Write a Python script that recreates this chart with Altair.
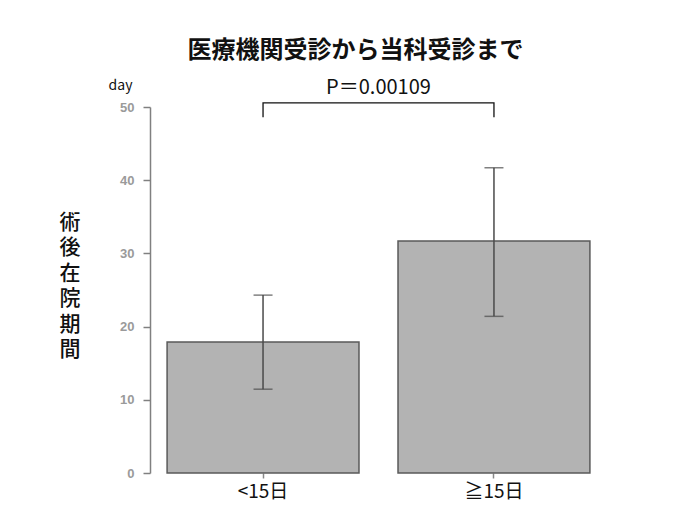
import altair as alt
import pandas as pd

# ---- data ----
categories = ["<15日", "≧15日"]
means = [17.9, 31.7]
lower = [11.45, 21.4]
upper = [24.3, 41.7]
y_ticks = [0, 10, 20, 30, 40, 50]

title_text = "医療機関受診から当科受診まで"
p_label = "P＝0.00109"
y_unit = "day"
y_title = "術後在院期間"

bracket_top = 50.55
bracket_bottom = 48.6
p_label_y = 52.6

FONT_JP = "Noto Sans CJK JP"
W, H = 457, 366

df = pd.DataFrame({"group": categories, "mean": means, "lo": lower, "hi": upper})
br = pd.DataFrame({
    "group": [categories[0], categories[0], categories[1], categories[1]],
    "y": [bracket_bottom, bracket_top, bracket_top, bracket_bottom],
    "o": [0, 1, 2, 3],
})

x_scale = alt.Scale(domain=categories, paddingInner=0.169, paddingOuter=0.074)
y_scale = alt.Scale(domain=[0, 50], nice=False, zero=True)

x_enc = alt.X(
    "group:N", sort=categories, scale=x_scale,
    axis=alt.Axis(title=None, domain=False, labelAngle=0, labelFont=FONT_JP,
                  labelFontSize=19, labelColor="#111", tickColor="#888",
                  tickSize=5, tickWidth=1.5, labelPadding=4),
)
y_enc = alt.Y(
    "mean:Q", scale=y_scale,
    axis=alt.Axis(values=y_ticks, title=y_unit, titleAngle=0, titleX=-30, titleY=-22,
                  titleAlign="center", titleBaseline="middle", titleFont=FONT_JP,
                  titleFontSize=14, titleFontWeight="normal", titleColor="#111",
                  grid=False, domainColor="#808080", domainWidth=1.5,
                  tickColor="#808080", tickWidth=1.5, tickSize=7,
                  labelFont="Liberation Sans", labelFontSize=13, labelFontWeight="bold",
                  labelColor="#9a9a9a", labelPadding=9),
)

base = alt.Chart(df)
bars = base.mark_bar(color="#b3b3b3", stroke="#5a5a5a", strokeWidth=1.5).encode(x=x_enc, y=y_enc)
err = base.mark_rule(color="#4a4a4a", strokeWidth=1.5).encode(
    x=alt.X("group:N", sort=categories), y="lo:Q", y2="hi:Q")
cap_hi = base.mark_tick(color="#4a4a4a", thickness=1.5, size=19).encode(
    x=alt.X("group:N", sort=categories), y="hi:Q")
cap_lo = base.mark_tick(color="#4a4a4a", thickness=1.5, size=19).encode(
    x=alt.X("group:N", sort=categories), y="lo:Q")

bracket = alt.Chart(br).mark_line(color="#111", strokeWidth=1.3).encode(
    x=alt.X("group:N", sort=categories), y="y:Q", order="o:Q")

ptext = alt.Chart(pd.DataFrame({"t": [p_label], "y": [p_label_y]})).mark_text(
    font=FONT_JP, fontSize=20, color="#111", baseline="middle", align="center"
).encode(x=alt.value(W / 2), y="y:Q", text="t:N")

ytitle = alt.Chart(pd.DataFrame({"t": [y_title]})).mark_text(
    font=FONT_JP, fontSize=21, fontWeight=500, color="#111", lineBreak="|",
    lineHeight=25.4, baseline="middle", align="center"
).encode(x=alt.value(-80), y=alt.value(116),
         text=alt.value("|".join(list(y_title))))

chart = alt.layer(bars, err, cap_hi, cap_lo, bracket, ptext, ytitle).properties(
    width=W, height=H,
    title=alt.TitleParams(title_text, font=FONT_JP, fontSize=24, fontWeight="bold",
                          color="#111", anchor="middle", dx=-23, offset=15),
    autosize=alt.AutoSizeParams(type="none"),
    padding={"left": 142, "top": 99, "right": 77, "bottom": 30},
    background="white",
).configure_view(stroke=None)

chart.save("out.html", embed_options={"renderer": "svg", "actions": False})
